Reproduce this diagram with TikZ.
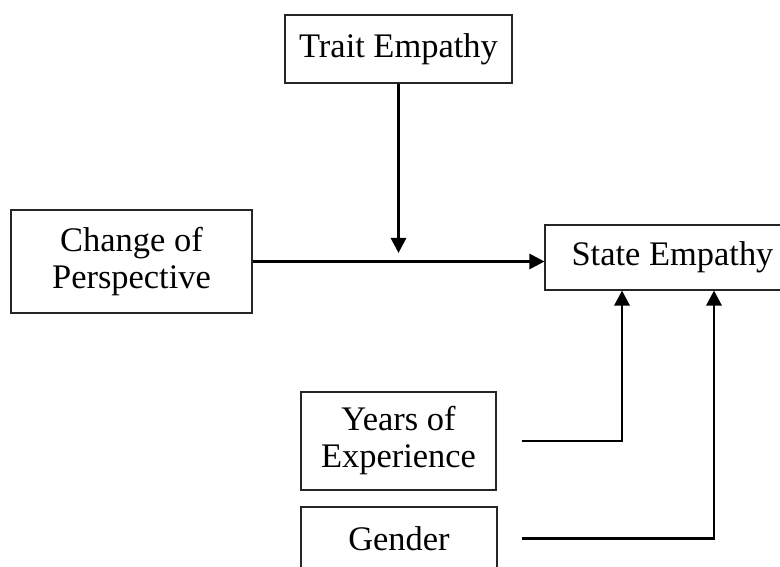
\documentclass[tikz,border=0pt]{standalone}
\usepackage{fontspec}
\setmainfont{Liberation Serif}
\usetikzlibrary{arrows.meta, positioning, calc}

\begin{document}
\begin{tikzpicture}[
  x=0.03cm, y=-0.03cm,
  box/.style={draw=black!85, line width=0.9pt, fill=white, inner sep=0pt, align=center,
    font=\fontsize{29.4}{31.6}\selectfont},
  link/.style={line width=2.5pt, -{Triangle[length=0.45cm, width=0.45cm]}}
]
% ---- page frame (picture is cut at the right and bottom edges) ----
\useasboundingbox (0,0) rectangle (780,567);
\clip (0,0) rectangle (780,567);

% ---- boxes ----
\node[box, minimum width=6.81cm, minimum height=2.04cm] (trait) at (398.5, 49) {Trait Empathy};
\node[box, minimum width=7.23cm, minimum height=3.09cm] (change) at (131.5, 261.5) {Change of\\Perspective};
\node[box, minimum width=7.65cm, minimum height=1.95cm] (state) at (672.5, 257.5) {State Empathy};
\node[box, minimum width=5.85cm, minimum height=2.94cm] (years) at (398.5, 441) {Years of\\Experience};
\node[box, minimum width=5.88cm, minimum height=1.89cm] (gender) at (399, 538.5) {Gender};

% ---- main path, moderated from above ----
\draw[link] (change.east) -- (change.east -| state.west);
\coordinate (modtip) at (398.5, 253);
\draw[link] (trait.south) -- (modtip);

% ---- covariates: lines start a little off the box, then turn up ----
\draw[link] ([xshift=0.75cm]years.east) -| ($(state.south)+(-50.5,0)$);
\draw[link] ([xshift=0.72cm]gender.east) -| ($(state.south)+(41.5,0)$);
\end{tikzpicture}
\end{document}
